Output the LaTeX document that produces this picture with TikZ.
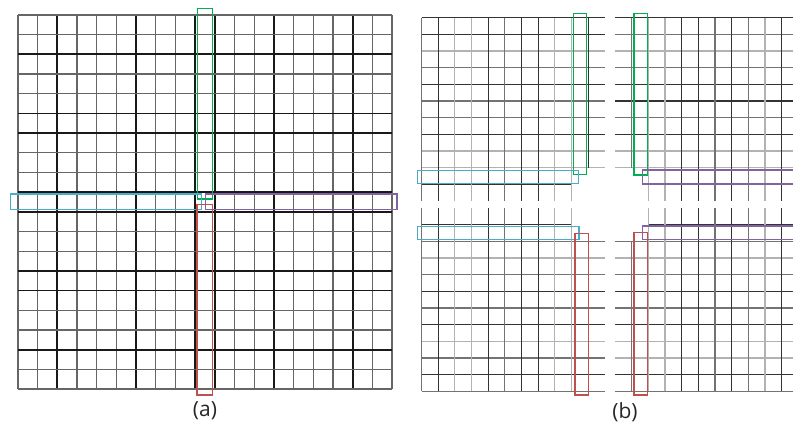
\documentclass[tikz,border=0pt]{standalone}
\usepackage{fontspec}
\setmainfont{Open Sans}
\usepackage{tikz}
\definecolor{hlgreen}{RGB}{0,176,80}
\definecolor{hlcyan}{RGB}{75,172,198}
\definecolor{hlpurple}{RGB}{128,100,162}
\definecolor{hlred}{RGB}{192,80,77}

\begin{document}
\begin{tikzpicture}[
  x=1bp, y=-1bp,
  amid/.style={draw=black!60, line width=1.2bp},
  athick/.style={draw=black!90, line width=1.8bp},
  lite/.style={draw=black!30, line width=1.2bp},
  mid/.style={draw=black!55, line width=1.2bp},
  dark/.style={draw=black!80, line width=1.2bp},
  hl/.style={draw=#1, line width=1.4bp},
  lbl/.style={font=\fontsize{21}{24}\selectfont, text=black!85, inner sep=0pt},
]
\useasboundingbox (0,0) rectangle (793,426);
\clip (0,0) rectangle (793,426);

% (a) full mesh
\begin{scope}[shift={(18,15)}, x=19.684bp, y=-19.684bp]
  \foreach \i/\s in {0/amid,1/amid,2/athick,3/amid,4/amid,5/amid,6/athick,7/amid,8/amid,9/athick,
                     10/athick,11/amid,12/amid,13/athick,14/amid,15/amid,16/amid,17/athick,18/amid,19/amid}
    \draw[\s] (\i,0) -- (\i,19);
  \foreach \j/\s in {0/amid,1/amid,2/athick,3/amid,4/amid,5/athick,6/athick,7/amid,8/amid,9/athick,
                     10/athick,11/amid,12/amid,13/athick,14/athick,15/amid,16/amid,17/athick,18/amid,19/amid}
    \draw[\s] (0,\j) -- (19,\j);
\end{scope}

\draw[hl=hlgreen]  (197.3,8.3)  rectangle (212.3,199);
\draw[hl=hlcyan]   (10.7,194)   rectangle (201.5,209.5);
\draw[hl=hlpurple] (205.7,194)  rectangle (397,209.7);
\draw[hl=hlred]    (197,204.3)  rectangle (212.7,395);

% (b) four parts with halo
\begin{scope}[shift={(421.5,17.7)}, x=16.67bp, y=-16.67bp]
  \foreach \j/\s in {0/dark,1/dark,2/lite,3/mid,4/dark,5/mid,6/mid,7/dark,8/lite,9/lite}
    \draw[\s] (0,\j) -- (11,\j);
  \draw[dark] (0,10) -- (9,10);
  \foreach \k/\s in {0/mid,1/dark,2/lite,3/lite,4/dark,5/mid,6/dark,7/dark,8/lite,9/lite}
    \draw[\s] (\k,0) -- (\k,11);
  \draw[dark] (10,0) -- (10,9);
\end{scope}

\begin{scope}[shift={(798.4,17.7)}, x=-16.67bp, y=-16.67bp]
  \foreach \j/\s in {0/dark,1/mid,2/lite,3/mid,4/dark,5/dark,6/mid,7/dark,8/lite,9/lite}
    \draw[\s] (0,\j) -- (11,\j);
  \draw[dark] (0,10) -- (9,10);
  \foreach \k/\s in {0/mid,1/dark,2/lite,3/mid,4/dark,5/mid,6/dark,7/dark,8/lite,9/lite}
    \draw[\s] (\k,0) -- (\k,11);
  \draw[mid] (10,0) -- (10,9);
\end{scope}

\begin{scope}[shift={(421.5,391.3)}, x=16.67bp, y=16.67bp]
  \foreach \j/\s in {0/mid,1/dark,2/mid,3/lite,4/dark,5/mid,6/dark,7/mid,8/lite,9/mid}
    \draw[\s] (0,\j) -- (11,\j);
  \draw[dark] (0,10) -- (9,10);
  \foreach \k/\s in {0/mid,1/dark,2/lite,3/lite,4/dark,5/mid,6/dark,7/dark,8/lite,9/lite}
    \draw[\s] (\k,0) -- (\k,11);
  \draw[dark] (10,0) -- (10,9);
\end{scope}

\begin{scope}[shift={(798.4,391.3)}, x=-16.67bp, y=16.67bp]
  \foreach \j/\s in {0/mid,1/dark,2/lite,3/lite,4/dark,5/mid,6/dark,7/mid,8/lite,9/mid}
    \draw[\s] (0,\j) -- (11,\j);
  \draw[dark] (0,10) -- (9,10);
  \foreach \k/\s in {0/mid,1/dark,2/lite,3/mid,4/dark,5/mid,6/dark,7/dark,8/lite,9/lite}
    \draw[\s] (\k,0) -- (\k,11);
  \draw[mid] (10,0) -- (10,9);
\end{scope}

\draw[hl=hlgreen]  (573.5,13.3)  rectangle (586.7,174.5);
\draw[hl=hlcyan]   (417.3,170.7) rectangle (578.3,183.3);
\draw[hl=hlgreen]  (634,13.3)    rectangle (647.3,175);
\draw[hl=hlpurple] (642.3,170)   rectangle (810,184);
\draw[hl=hlcyan]   (417.5,226.5) rectangle (579,239.5);
\draw[hl=hlred]    (575,233.3)   rectangle (588.3,395);
\draw[hl=hlpurple] (642.3,226)   rectangle (810,239.3);
\draw[hl=hlred]    (634,232.7)   rectangle (647.3,395);

\node[lbl] (capa) at (205,411) {(a)};
\node[lbl] (capb) at (625,412) {(b)};
\end{tikzpicture}
\end{document}
